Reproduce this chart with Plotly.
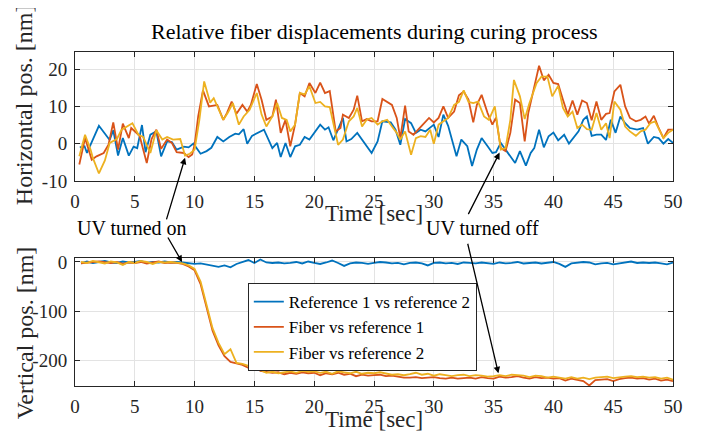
import plotly.graph_objects as go

# ---------------- data ----------------
# Top panel: horizontal relative displacement [nm]
t_h_ref = [0.4,0.8,1.0,1.4,2.0,2.9,3.2,3.6,4.0,4.5,4.9,5.2,5.6,5.9,6.3,6.8,7.2,7.7,8.1,8.5,9.1,9.5,9.9,10.5,11.0,11.4,11.9,12.4,12.9,13.4,13.7,14.1,14.4,14.8,15.8,16.5,16.9,17.2,17.6,18.0,18.4,18.8,19.2,19.6,20.1,20.5,20.9,21.2,21.6,22.0,22.4,22.7,23.1,23.6,24.3,24.8,25.3,25.7,26.4,26.8,27.2,27.6,28.1,28.5,28.9,29.3,30.0,30.4,30.8,31.2,31.9,32.3,32.8,33.2,33.6,34.0,34.5,34.9,35.2,35.6,36.0,36.4,36.8,37.2,37.7,38.1,38.4,38.8,39.2,39.6,40.0,40.4,40.9,41.3,41.7,42.1,42.5,42.8,43.2,43.6,44.0,44.4,44.8,45.2,45.6,46.0,46.4,47.0,47.5,47.9,48.4,48.8,49.2,49.6,50.0]
h_ref = [-1,-0.7,-2.5,0.5,4.8,1,3.6,-3.2,1.5,-3.2,-0.8,-1.2,5,-2.3,2.4,3.3,-3.4,0.6,0.4,-1.6,-0.8,-1.0,0,-2.7,-2.0,-1.1,1.8,0.6,1.8,2.7,2.5,3.9,0,2.1,3.75,-1.2,0.2,-3.6,0.2,-3.6,-0.7,-0.3,1.8,1.1,3.3,5.1,3.75,4.4,0.9,3.75,6.9,0.6,1.25,2.9,-0.3,-2.5,0.6,6,5.7,3.75,-0.3,6.6,5.5,2.9,3.75,3.3,5.1,1.8,7.8,4.8,-3.4,1.1,-0.7,-6,-1.6,1.5,-0.7,-2.5,-2.3,0.2,-1.6,-3.4,-5.2,-2.0,-5.9,-2.5,-1.2,3.75,-1.0,2.0,3.0,0.9,2.4,0,1.5,3.3,6.4,7.3,2.1,2.4,2.4,1.0,6.4,2.9,7.3,5.5,4.2,3.75,4.2,0,1.8,1.5,0,1.25,0.2]

t_h_f1 = [0.36,0.84,1.4,1.8,2.4,2.8,3.2,3.6,4.0,4.5,4.7,5.4,6.0,6.4,6.8,7.2,7.7,8.1,8.5,9.1,9.5,9.8,10.0,10.3,10.7,11.2,11.9,12.4,12.7,13.1,13.5,14.0,14.4,14.7,15.2,15.6,16.0,16.5,16.8,17.2,17.6,18.0,18.4,18.8,19.2,19.6,20.1,20.5,20.9,21.3,21.8,22.2,22.4,22.9,23.3,23.6,24.0,24.4,24.8,25.3,25.7,26.1,26.5,26.9,27.2,27.6,27.9,28.3,28.7,29.2,29.6,30.0,30.4,30.8,31.2,31.7,32.1,32.5,32.9,33.3,33.6,34.0,34.5,34.9,35.2,35.6,36.0,36.4,36.8,37.2,37.6,37.9,38.4,38.8,39.2,39.6,40.0,40.4,40.8,41.2,41.6,42.0,42.4,42.8,43.2,43.6,44.0,44.4,44.7,45.1,45.6,46.0,46.4,46.9,47.3,47.7,48.0,48.4,48.8,49.2,49.6,50.0]
h_f1 = [-5.6,1.5,-4.3,-3.4,-2.5,-0.3,5.7,-1.6,5.4,1.5,4.2,2.1,-5.2,1.25,3.75,-1.4,1.1,0.2,-2.3,-2.5,-3.6,-2.9,-0.3,7.3,14.3,10,10.4,6.4,8.2,11.3,8,10.4,8.6,10.4,16,11.8,6.4,7.3,11.8,2.9,6.4,-0.7,5.1,13.6,12.7,16.3,13.6,16.4,13.6,14.1,3.3,4.2,7.8,6.9,9.1,12.9,6,6.6,6,6,12,11.3,10.4,6.9,1.5,10.2,3.3,2.4,3.75,5.4,6.9,5.7,6.9,10,6.9,8.6,13.0,14,11.8,5.7,10.4,13.1,8.2,5.1,7.0,-1.2,-2.0,2.9,11.8,10.9,0.6,8.2,14.9,20.9,17,18.5,16.3,16,11.8,7.8,11.6,7.8,11.6,10.9,6.3,11.3,6.4,8.0,8.2,14,15.8,10,6.9,6,6.4,7.3,5.4,7.5,4.2,1.5,3.75,3.75]

t_h_f2 = [0.36,0.84,1.3,1.5,2.0,2.5,2.9,3.5,3.9,4.4,4.8,5.3,5.7,6.3,6.8,7.3,7.7,8.2,8.8,9.2,9.6,10.0,10.4,10.8,11.3,11.6,12.0,12.4,12.8,13.2,13.7,14.1,14.6,15.2,15.6,16.0,16.5,16.9,17.3,17.7,18.0,18.4,18.8,19.2,19.6,20.1,20.5,20.9,21.3,21.7,22.0,22.4,22.9,23.3,23.6,24.0,24.4,24.8,25.3,25.7,26.1,26.5,26.9,27.2,27.6,28.1,28.5,28.9,29.3,29.7,30.0,30.4,30.8,31.2,31.7,32.1,32.5,32.9,33.3,33.7,34.2,34.6,35.1,35.6,36.0,36.4,36.7,37.2,37.6,38.0,38.6,39.0,39.5,39.9,40.4,40.8,41.2,41.6,42.0,42.4,42.8,43.2,43.6,44.0,44.4,44.7,45.1,45.6,46.0,46.4,46.9,47.3,47.7,48.1,48.5,48.9,49.2,49.6,50.0]
h_f2 = [-3.4,2.4,-1.6,-3.9,-8,-4.5,0.2,1.25,3.75,4.8,5.5,2.4,1.8,-2.5,3.6,1.1,1.8,1.1,1.25,-3.2,-2.7,-1.6,6.4,16.7,11,12.2,9.1,6.4,8.4,10.9,5.1,7.3,9.1,13.6,7.8,4.6,7.3,10.9,6.9,6.4,3.3,5.1,13.6,13.2,15.4,10.9,11.2,10.0,9.8,3.75,-0.3,1.1,6,7.3,9.6,4.6,6.5,6.9,5.1,6.0,6.4,4.6,2.9,1.1,3.3,-3.0,1.5,2.0,1.8,3.75,0,5.1,6,6.9,10.4,11.2,14.3,11.2,10.9,11.3,7.3,6.4,10,-1.6,-1.2,6.4,17.1,12.7,6.6,10.9,16.3,18,18,12.7,15.5,9.6,7.3,8.6,4.2,5.1,3.9,3.75,8.2,3.75,5.5,1.5,11.3,9.1,4.6,3.3,2.1,3.3,3.75,5.5,6,3.3,1.5,2.9,3.75]

# Bottom panel: vertical relative displacement [nm], sampled every 0.5 s
t_v = [0.5 * (i + 1) for i in range(100)]
v_ref = [-3,1,-2,0,2,-1,-2,1,-1,0,2,-2,0,-1,1,-1,0,
         -1,-3,-4,-3,-5,-8,-10,-7,-11,-4,0,4,-2,5,-1,-2,-1,-3,-2,0,-3,1,-2,-4,-1,3,-2,-8,-3,-1,-2,-4,-2,0,
         -1,-3,-2,-5,-2,-1,-3,-7,-2,-1,-3,-2,-4,-1,-2,-3,-1,-2,-4,-1,-3,-2,0,-3,-2,-1,-3,-2,0,-4,-10,-3,
         -2,0,-1,-5,-3,-2,-5,-3,-2,1,-2,-1,-2,-1,-3,-5,-1]
v_f1 = [-3,-1,0,1,-1,-2,0,-4,-1,-2,0,-3,-1,1,-2,-1,-2,
        -4,-9,-17,-45,-95,-140,-170,-192,-204,-207,-210,-216,-213,-222,-224,-226,-225,-229,-226,-228,-225,-227,-226,-231,-227,-229,-226,-230,-228,-233,-230,-232,-231,-230,
        -233,-232,-234,-236,-236,-235,-237,-236,-235,-237,-238,-236,-238,-237,-236,-238,-235,-237,-238,-234,-236,-235,-233,-236,-238,-235,-237,-236,-238,-237,-242,-238,
        -240,-243,-252,-241,-240,-239,-243,-239,-237,-236,-238,-237,-240,-238,-242,-240,-243]
v_f2 = [0,-2,2,0,-3,1,-1,-6,0,-2,2,0,-4,0,-1,0,-2,
        -3,-7,-14,-40,-88,-135,-165,-188,-178,-206,-208,-212,-218,-220,-226,-224,-227,-225,-223,-226,-222,-224,-223,-226,-224,-228,-223,-225,-227,-224,-228,-226,-227,-225,
        -228,-230,-229,-231,-229,-226,-230,-228,-232,-229,-231,-233,-231,-230,-233,-231,-232,-234,-233,-231,-233,-230,-231,-232,-235,-232,-233,-236,-234,-236,-238,-235,
        -238,-236,-239,-236,-235,-234,-237,-235,-234,-233,-235,-234,-236,-235,-238,-236,-240]

series_names = ["Reference 1 vs reference 2", "Fiber vs reference 1", "Fiber vs reference 2"]
colors = ["#0072BD", "#D95319", "#EDB120"]

x_ticks = [0, 5, 10, 15, 20, 25, 30, 35, 40, 45, 50]
top_y_ticks = [-10, 0, 10, 20]
bot_y_ticks = [-200, -100, 0]

# ---------------- figure ----------------
FONT = "Liberation Serif"
fig = go.Figure()

top = [(t_h_ref, h_ref), (t_h_f1, h_f1), (t_h_f2, h_f2)]
bot = [(t_v, v_ref), (t_v, v_f1), (t_v, v_f2)]
for i, (tx, ty) in enumerate(top):
    fig.add_trace(go.Scatter(x=tx, y=ty, mode="lines", line=dict(color=colors[i], width=1.8),
                             xaxis="x", yaxis="y", showlegend=False))
for i, (tx, ty) in enumerate(bot):
    fig.add_trace(go.Scatter(x=tx, y=ty, mode="lines", line=dict(color=colors[i], width=1.8),
                             xaxis="x2", yaxis="y2", name=series_names[i], showlegend=True))

axis_common = dict(showline=True, linecolor="#262626", linewidth=1, mirror="ticks",
                   ticks="inside", ticklen=5, tickcolor="#262626", automargin=False,
                   showgrid=True, gridcolor="#e3e3e3", gridwidth=1, zeroline=False,
                   tickfont=dict(family=FONT, size=19, color="#262626"))

def tt(vals):
    return [str(v) for v in vals]

# The page body adds an 8 px offset, so the figure is 8 px smaller than the window.
fig.update_layout(
    template="none",
    width=702, height=428,
    margin=dict(l=67, r=37, t=44, b=50, autoexpand=False),
    paper_bgcolor="white", plot_bgcolor="white",
    xaxis=dict(domain=[0, 1], range=[0, 50], tickvals=x_ticks, ticktext=tt(x_ticks),
               anchor="y", ticklabelstandoff=3, **axis_common),
    yaxis=dict(domain=[0.614, 1], range=[-10, 24.6], tickvals=top_y_ticks, ticktext=tt(top_y_ticks),
               anchor="x", ticklabelstandoff=3, **axis_common),
    xaxis2=dict(domain=[0, 1], range=[0, 50], tickvals=x_ticks, ticktext=tt(x_ticks),
                anchor="y2", ticklabelstandoff=3, **axis_common),
    yaxis2=dict(domain=[0, 0.383], range=[-253, 8], tickvals=bot_y_ticks, ticktext=tt(bot_y_ticks),
                anchor="x2", ticklabelstandoff=3, **axis_common),
    legend=dict(x=0.289, y=0.308, xanchor="left", yanchor="top",
                bgcolor="white", bordercolor="#262626", borderwidth=1,
                font=dict(family=FONT, size=17, color="#000000"),
                itemwidth=30, tracegroupgap=0),
    showlegend=True,
)

ann = []
ann.append(dict(text="Relative fiber displacements during curing process", xref="paper", yref="paper",
                x=0.5, y=1.06, showarrow=False, font=dict(family=FONT, size=22, color="black"),
                xanchor="center", yanchor="middle"))
ann.append(dict(text="Time [sec]", xref="paper", yref="paper", x=0.5, y=0.515, showarrow=False,
                font=dict(family=FONT, size=23, color="#262626"), xanchor="center", yanchor="middle"))
ann.append(dict(text="Time [sec]", xref="paper", yref="paper", x=0.5, y=-0.1, showarrow=False,
                font=dict(family=FONT, size=23, color="#262626"), xanchor="center", yanchor="middle"))
ann.append(dict(text="Horizontal pos. [nm]", xref="paper", yref="paper", x=-0.084, y=0.843,
                textangle=-90, showarrow=False, font=dict(family=FONT, size=24, color="#262626"),
                xanchor="center", yanchor="middle"))
ann.append(dict(text="Vertical pos. [nm]", xref="paper", yref="paper", x=-0.084, y=0.16,
                textangle=-90, showarrow=False, font=dict(family=FONT, size=24, color="#262626"),
                xanchor="center", yanchor="middle"))
ann.append(dict(text="UV turned on", xref="paper", yref="paper", x=0.0954, y=0.473, showarrow=False,
                font=dict(family=FONT, size=20, color="black"), xanchor="center", yanchor="middle"))
ann.append(dict(text="UV turned off", xref="paper", yref="paper", x=0.681, y=0.473, showarrow=False,
                font=dict(family=FONT, size=20, color="black"), xanchor="center", yanchor="middle"))

arrow_style = dict(text="", showarrow=True, arrowhead=2, arrowsize=1, arrowwidth=1.3, arrowcolor="black")
ann.append(dict(xref="x", yref="y", x=9.2, y=-3.8, ax=-19, ay=63, **arrow_style))
ann.append(dict(xref="x2", yref="y2", x=8.95, y=0, ax=-15, ay=-26, **arrow_style))
ann.append(dict(xref="x", yref="y", x=35.5, y=-2.4, ax=-32, ay=63, **arrow_style))
ann.append(dict(xref="x2", yref="y2", x=35.4, y=-227, ax=-31, ay=-131, **arrow_style))

fig.update_layout(annotations=ann)
fig.write_html("out.html")
